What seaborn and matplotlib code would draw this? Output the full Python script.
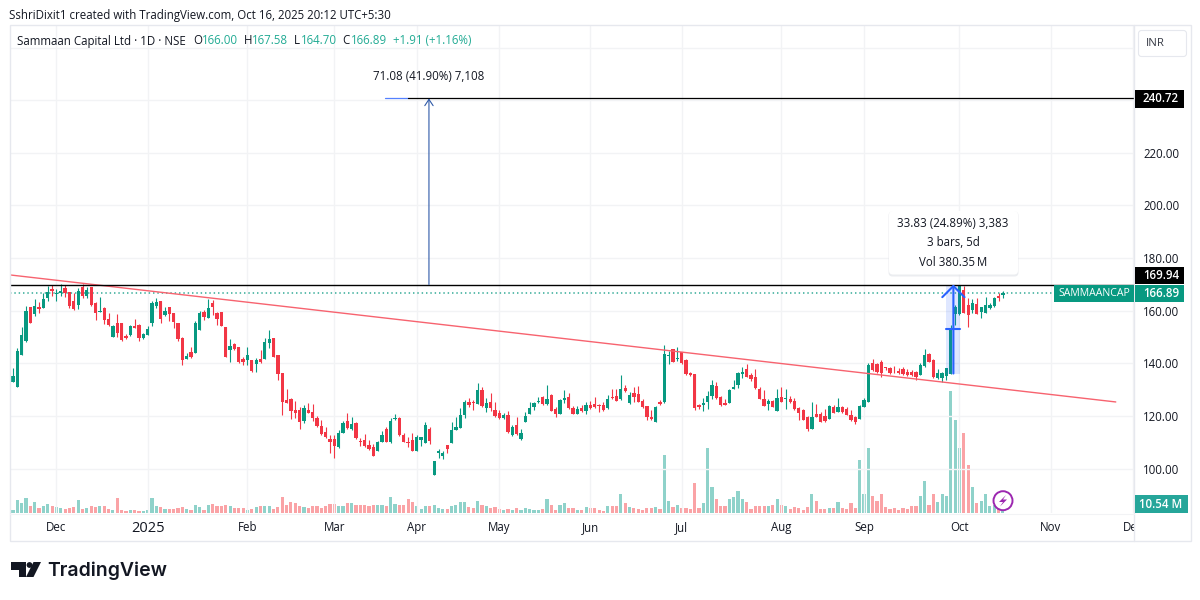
#!/usr/bin/env python3
"""Sammaan Capital daily candles with volume, TradingView style."""

import matplotlib
matplotlib.use("Agg")
import matplotlib.pyplot as plt
import numpy as np
import pandas as pd
import seaborn as sns
from matplotlib.patches import Circle, FancyBboxPatch, Polygon, Rectangle

# daily bars (oldest first, Nov 2024 to Oct 16 2025)
opens = [
    138.7,133.0,130.9,143.1,148.5,161.5,158.6,161.3,160.9,165.0,
    168.1,166.4,166.9,168.5,167.3,163.5,162.1,168.9,165.6,169.2,
    163.1,159.5,161.2,156.7,150.1,155.2,155.2,150.4,150.8,154.3,
    154.6,149.5,150.8,155.2,161.9,163.7,158.4,161.3,159.3,155.2,
    149.8,141.6,144.2,143.8,152.7,159.4,157.4,162.8,159.0,159.6,
    153.7,145.1,147.3,146.1,141.6,141.3,141.1,139.7,141.6,141.6,
    147.9,149.5,143.0,136.4,126.0,126.3,122.2,122.2,118.1,122.2,
    121.5,119.3,116.2,114.0,111.4,111.1,108.1,113.6,117.9,114.9,
    117.4,110.6,110.8,109.0,108.3,106.7,110.1,115.2,110.1,118.7,
    119.3,112.9,110.1,110.8,106.8,110.8,109.8,114.9,97.5,105.8,
    104.8,109.0,109.6,114.6,115.4,120.3,125.2,125.2,124.5,129.9,
    122.9,125.4,122.2,121.0,119.1,120.3,112.6,116.5,111.2,117.8,
    120.7,123.3,125.2,127.3,124.4,128.0,122.6,120.7,126.2,127.2,
    122.9,120.9,122.9,121.9,124.1,124.4,123.9,124.0,122.9,127.2,
    127.6,126.3,130.5,124.8,128.8,128.3,125.8,123.8,119.4,117.7,
    125.2,125.4,142.9,145.3,141.5,144.2,141.3,136.4,135.8,124.0,
    124.0,125.4,127.6,131.5,127.3,125.0,124.8,130.1,131.8,135.9,
    137.7,135.6,134.7,130.2,126.4,124.5,125.7,122.0,127.3,126.3,
    126.4,125.5,123.0,122.2,119.7,115.1,120.7,120.7,120.0,118.7,
    123.4,121.6,123.3,122.7,120.3,119.5,118.9,123.5,125.3,140.0,
    139.7,140.4,138.3,138.1,137.2,137.2,138.0,136.7,136.7,136.8,
    135.7,139.1,143.5,141.3,134.4,134.3,135.3,136.1,158.8,158.8,
    167.9,162.2,160.3,162.6,159.6,159.3,160.9,161.8,165.6,166.00,
]
highs = [
    138.7,138.1,145.7,153.7,161.8,161.5,164.3,163.2,166.9,169.4,
    169.8,168.1,170.1,169.8,167.3,166.6,168.5,170.2,169.2,169.2,
    163.2,165.1,161.3,159.0,154.6,158.6,155.2,151.0,154.6,156.9,
    154.8,151.4,154.0,163.8,165.0,163.7,161.3,161.5,159.3,155.5,
    150.1,143.8,146.1,156.1,160.0,160.3,164.5,164.1,159.6,159.6,
    153.7,149.1,147.9,146.3,142.3,146.1,141.3,141.9,145.1,149.5,
    152.7,149.8,143.2,136.4,130.1,126.7,125.8,123.5,124.2,124.8,
    124.4,120.0,118.4,115.7,112.7,112.7,114.6,118.2,121.0,119.7,
    117.6,111.5,113.1,110.8,109.3,110.6,114.4,115.7,119.1,120.7,
    119.7,113.6,111.9,113.4,112.7,112.1,117.6,115.9,103.0,107.3,
    106.7,109.0,117.7,119.7,122.9,126.0,126.7,126.0,132.4,131.1,
    126.7,128.6,125.4,122.2,121.0,121.9,116.5,119.7,115.0,121.6,
    125.4,125.4,127.3,127.6,131.8,128.3,123.5,126.4,129.9,128.8,
    123.8,123.8,124.1,125.4,125.8,127.3,124.5,125.2,127.9,130.1,
    130.1,135.5,131.8,129.2,131.1,131.4,126.4,123.9,122.2,123.9,
    126.0,147.0,144.8,145.3,146.3,144.4,141.5,136.8,135.8,124.4,
    126.7,129.6,133.6,133.0,127.6,126.4,130.1,133.6,136.8,138.5,
    139.7,136.2,137.7,130.9,129.8,126.3,126.0,130.1,130.9,130.1,
    127.6,126.9,123.3,122.6,120.0,125.4,124.5,121.6,122.5,124.1,
    124.1,126.7,123.8,123.5,122.2,120.0,124.1,126.8,140.2,141.5,
    140.3,141.3,138.7,138.7,139.0,138.1,138.7,137.7,137.5,137.2,
    140.0,145.3,143.8,141.5,137.7,136.8,138.1,154.6,162.2,169.94,
    169.4,165.0,164.3,164.7,161.5,165.1,162.8,165.1,166.6,167.58,
]
lows = [
    133.4,133.0,130.9,143.1,148.2,155.2,158.0,159.3,160.9,163.8,
    165.6,163.5,165.4,165.1,160.9,160.3,160.5,164.7,164.7,161.8,
    156.5,159.4,154.8,154.2,150.1,150.1,148.5,149.3,150.4,153.3,
    148.5,149.1,150.8,154.0,161.2,155.2,158.1,156.1,153.5,148.6,
    139.4,141.5,141.9,143.8,152.7,156.5,157.1,158.4,154.6,154.2,
    142.3,140.6,145.1,140.0,139.4,139.4,136.6,136.8,140.2,141.6,
    146.0,142.3,133.7,120.3,124.8,118.8,119.1,115.2,117.2,121.0,
    118.1,115.9,112.9,111.5,105.8,104.1,107.7,113.6,115.0,114.6,
    111.2,108.7,108.3,107.0,104.8,106.5,110.1,110.1,109.6,118.4,
    112.4,110.0,108.3,106.5,106.8,108.7,109.8,109.3,97.5,104.1,
    103.7,106.0,109.6,114.6,115.4,119.3,123.5,122.2,124.4,123.3,
    121.6,121.9,119.7,118.8,118.8,113.6,112.5,112.6,110.8,117.6,
    120.6,122.2,124.8,124.2,124.2,121.9,119.7,120.7,125.0,122.5,
    120.6,120.7,121.6,120.7,122.6,123.0,121.6,122.0,122.6,126.4,
    125.7,126.0,129.2,124.5,125.4,125.3,123.0,118.4,118.4,117.7,
    124.1,124.8,139.7,140.4,141.0,139.6,135.4,135.2,122.2,122.8,
    122.0,122.6,126.4,126.4,123.9,124.0,124.8,130.1,130.5,134.5,
    134.7,133.4,130.2,126.3,123.8,122.2,123.3,121.9,125.3,122.7,
    124.8,122.2,118.4,118.4,114.3,115.0,119.5,117.7,117.8,118.7,
    121.0,121.6,121.2,120.2,118.1,116.8,118.9,123.3,125.3,137.2,
    136.2,134.7,137.5,135.9,136.2,135.9,135.6,135.3,135.2,133.7,
    135.4,138.7,140.4,134.3,133.9,133.0,133.7,135.9,154.6,158.4,
    159.0,153.7,159.0,158.8,157.1,159.0,160.5,161.5,163.7,164.70,
]
closes = [
    133.4,135.2,144.7,150.8,160.0,155.5,161.8,160.5,164.3,167.3,
    167.6,166.9,167.6,166.9,161.8,160.5,167.5,165.4,167.9,162.1,
    159.0,159.7,156.5,154.6,154.2,151.4,148.9,149.8,154.0,153.3,
    149.5,151.2,153.0,163.1,163.3,156.7,159.9,158.8,155.8,149.3,
    141.3,142.9,142.3,155.2,159.3,157.5,160.9,161.5,156.9,154.3,
    142.5,146.6,145.5,140.5,140.6,143.0,137.1,141.3,140.5,148.0,
    149.4,142.5,135.9,125.2,125.0,122.0,121.2,117.7,123.0,121.2,
    119.1,116.2,113.1,111.9,110.2,108.6,113.6,117.2,115.5,116.9,
    111.5,110.2,108.6,107.3,104.8,110.1,112.9,110.1,117.9,119.2,
    112.6,110.1,109.7,106.8,112.1,112.0,116.5,110.6,103.0,106.5,
    106.0,107.6,114.6,115.7,120.3,125.4,124.2,124.8,129.9,123.8,
    124.8,123.1,120.1,119.1,120.5,113.8,115.9,113.1,113.5,120.1,
    122.9,124.8,125.8,124.5,126.4,122.0,120.7,126.0,126.9,122.9,
    120.9,122.5,121.9,124.0,123.1,123.3,123.8,122.2,126.4,126.7,
    125.8,130.1,129.5,127.9,127.3,125.4,123.3,119.4,118.8,123.5,
    124.5,143.5,143.2,140.4,142.1,140.2,135.8,135.6,122.9,123.3,
    125.0,127.7,131.8,126.7,124.1,124.3,129.8,131.1,136.2,136.8,
    134.9,133.9,130.5,126.4,123.9,125.7,123.5,126.8,125.4,126.7,
    125.4,122.5,121.2,118.4,114.9,119.7,119.7,117.8,118.1,123.8,
    121.1,123.4,121.5,120.5,118.3,117.8,123.8,126.0,139.4,137.5,
    136.6,136.2,138.1,136.2,136.9,136.4,135.9,135.6,135.4,134.9,
    139.4,143.2,140.6,134.9,136.2,136.4,138.1,152.9,161.5,169.8,
    159.0,158.4,163.1,158.8,161.3,162.2,162.2,164.8,165.0,166.89,
]
# volume in millions
volumes = [
    4.5,4.5,17.2,13.6,20.4,9.1,15.4,7.2,9.1,12.7,
    9.1,8.2,6.8,5.4,7.2,8.2,17.7,5.9,7.2,10.0,
    8.2,9.1,9.1,5.9,4.5,20.4,4.5,2.7,4.5,4.5,
    3.2,3.2,3.6,20.4,9.1,8.2,5.9,5.4,5.4,6.3,
    8.2,5.4,3.6,10.9,8.2,3.6,11.3,12.2,10.0,10.0,
    11.3,10.0,6.3,7.2,6.8,4.5,5.4,8.2,9.1,10.0,
    9.1,5.9,8.2,21.7,10.9,15.4,13.6,9.1,8.2,6.8,
    10.0,9.1,7.2,9.1,12.2,11.8,9.1,9.1,13.6,13.6,
    10.9,11.3,11.3,9.1,11.3,11.3,11.3,10.0,21.7,12.7,
    11.3,11.3,19.0,15.4,9.1,5.9,10.0,10.0,11.3,6.3,
    5.9,5.9,10.0,11.3,15.4,15.4,8.2,7.2,16.8,11.3,
    10.0,6.8,8.2,5.9,4.5,5.4,4.5,6.3,4.5,6.8,
    5.9,4.5,4.5,5.9,19.0,11.3,4.5,11.3,13.6,7.2,
    7.2,4.5,4.5,8.2,7.2,7.2,4.5,2.7,10.0,10.0,
    10.0,26.3,13.6,8.2,6.8,5.9,4.5,6.8,6.8,8.2,
    5.4,79.3,16.3,8.2,11.3,6.8,6.8,5.4,40.8,6.8,
    13.6,88.3,35.3,19.0,9.1,10.0,19.0,21.7,29.9,19.0,
    14.9,5.4,10.0,9.1,10.0,9.1,11.3,19.0,10.9,10.0,
    5.4,8.2,6.8,4.5,8.2,26.3,16.3,5.4,5.4,7.2,
    7.2,14.9,6.8,5.4,13.6,6.8,72.5,25.4,88.3,22.7,
    16.3,25.4,8.2,5.4,6.8,4.5,6.8,5.4,9.1,10.0,
    22.7,43.5,11.3,25.4,14.9,26.3,22.7,165.3,126.8,88.8,
    108.7,64.8,35.3,13.6,16.3,25.4,10.0,11.3,8.2,10.54,
]

month_bars = [11, 32, 55, 75, 94, 113, 134, 155, 178, 197, 219, 240, 259]
month_labels = ["Dec", "2025", "Feb", "Mar", "Apr", "May", "Jun", "Jul", "Aug", "Sep", "Oct", "Nov", "Dec"]
price_ticks = [100, 120, 140, 160, 180, 200, 220, 240, 260]
price_labels = ["100.00", "120.00", "140.00", "160.00", "180.00", "200.00", "220.00", "", ""]

target_price = 240.72
resistance = 169.94
last_close = 166.89
measure_low = 136.11
trend_bars = [0.3, 255]
trend_prices = [173.6, 125.3]

GREEN = "#089981"
RED = "#f23645"
TEXT = "#131722"
GRID = "#f2f3f5"
FRAME = "#e6e8ee"
BLUE = "#2962ff"
FONT = "Open Sans"
FS = 8.3

df = pd.DataFrame({"open": opens, "high": highs, "low": lows, "close": closes, "volume": volumes})
df["bar"] = np.arange(len(df))
df["side"] = np.where(df["close"] >= df["open"], "up", "down")

sns.set_theme(style="white")
plt.rcParams["font.family"] = [FONT, "DejaVu Sans"]

fig = plt.figure(figsize=(12, 6), dpi=100, facecolor="white")

# chart area is x 10-1134 and y 26-513 in pixels
ax = fig.add_axes([10 / 1200, 1 - 513 / 600, 1124 / 1200, 487 / 600])
ax_vol = ax.twinx()
ax.set_zorder(ax_vol.get_zorder() + 1)
ax.patch.set_visible(False)

# volume, on its own scale at the bottom of the pane
sns.barplot(data=df, x="bar", y="volume", hue="side", hue_order=["up", "down"],
            palette={"up": "#8fd2ca", "down": "#faa3a6"}, native_scale=True, dodge=False,
            width=0.74, saturation=1, legend=False, errorbar=None, ax=ax_vol)
for patch in ax_vol.patches:
    patch.set_linewidth(0)
ax_vol.set_ylim(0, 662)
ax_vol.set_xlabel("")
ax_vol.set_ylabel("")
ax_vol.set_yticks([])

# candles
colors = [GREEN if s == "up" else RED for s in df["side"]]
ax.vlines(df["bar"], df["low"], df["high"], colors=colors, lw=0.8, zorder=3)
body_low = df[["open", "close"]].min(axis=1)
body_size = (df["open"] - df["close"]).abs().clip(lower=0.35)
ax.bar(df["bar"], body_size, bottom=body_low, width=0.76, color=colors, linewidth=0, zorder=3)

# trend line and levels
sns.lineplot(x=trend_bars, y=trend_prices, color="#f7636f", lw=1.0, ax=ax, zorder=4)
ax.plot([86.7, 259.2], [resistance - 0.35, resistance - 0.35], color=BLUE, lw=0.7, zorder=4)
ax.plot([0.3, 259.2], [resistance, resistance], color="black", lw=1.0, zorder=5)
ax.plot([86.7, 92], [target_price, target_price], color=BLUE, lw=0.9, zorder=4, alpha=0.8)
ax.plot([92, 259.2], [target_price, target_price], color="black", lw=0.9, zorder=5)
ax.axhline(last_close, color=GREEN, lw=1.3, ls=(0, (0.8, 1.6)), alpha=0.7, zorder=2)

# target arrow
ax.annotate("", xy=(96.8, target_price), xytext=(96.8, resistance),
            arrowprops=dict(arrowstyle="->,head_length=0.45,head_width=0.3", color="#2f5aa8",
                            lw=0.8, mutation_scale=10, shrinkA=0, shrinkB=0), zorder=5)

# measured move
ax.add_patch(Rectangle((216.0, measure_low), 3.2, resistance - measure_low,
                       facecolor=BLUE, alpha=0.15, linewidth=0, zorder=4))
ax.annotate("", xy=(217.6, resistance), xytext=(217.6, measure_low),
            arrowprops=dict(arrowstyle="->,head_length=0.8,head_width=0.8", color=BLUE,
                            lw=1.5, mutation_scale=10, shrinkA=0, shrinkB=0), zorder=6)
ax.plot([216.0, 219.2], [153.0, 153.0], color=BLUE, lw=1.5, zorder=6)

ax.set_xlim(0.3, 259.2)
ax.set_ylim(83.08, 268.25)
ax_vol.set_xlim(0.3, 259.2)
ax.set_axisbelow(True)
ax.set_xticks(month_bars, month_labels)
ax.set_yticks(price_ticks, price_labels)
ax.yaxis.tick_right()
ax.grid(True, color=GRID, lw=1.0)
ax.tick_params(axis="y", length=0, pad=6.5, labelsize=FS, labelcolor=TEXT)
ax.tick_params(axis="x", length=0, pad=6, labelsize=FS, labelcolor=TEXT)
ax.get_xticklabels()[1].set_fontsize(10.5)
for spine in ax.spines.values():
    spine.set_visible(False)
for spine in ax_vol.spines.values():
    spine.set_visible(False)
ax_vol.tick_params(axis="x", length=0, labelbottom=False)

# chrome on a pixel overlay
ov = fig.add_axes([0, 0, 1, 1], zorder=20)
ov.set_xlim(0, 1200)
ov.set_ylim(600, 0)
ov.axis("off")
ov.patch.set_visible(False)

# covers the right half of the last month label
ov.add_patch(Rectangle((1134.5, 514), 55, 26, facecolor="white", linewidth=0, zorder=1))
ov.add_patch(Rectangle((10, 25), 1180.5, 516, fill=False, edgecolor=FRAME, lw=1.0, zorder=2))
ov.plot([1134, 1134], [25, 541], color=FRAME, lw=1.0, zorder=2)
ov.plot([10, 1134], [513.5, 513.5], color=GRID, lw=0.8, zorder=2)

ov.text(9, 15, "SshriDixit1 created with TradingView.com, Oct 16, 2025 20:12 UTC+5:30",
        fontsize=FS, color=TEXT, va="center", ha="left")
ov.text(17, 41, "Sammaan Capital Ltd · 1D · NSE", fontsize=FS, color=TEXT, va="center")
for label, x_label, value, x_value in [("O", 193, "166.00", 202), ("H", 244, "167.58", 252),
                                       ("L", 294, "164.70", 301), ("C", 342, "166.89", 351)]:
    ov.text(x_label, 41, label, fontsize=FS, color=TEXT, va="center")
    ov.text(x_value, 41, value, fontsize=FS, color="#22ab94", va="center")
ov.text(393, 41, "+1.91 (+1.16%)", fontsize=FS, color="#22ab94", va="center")

ov.text(429, 77, "71.08 (41.90%) 7,108", fontsize=FS, color=TEXT, ha="center", va="center")

# tooltip of the measure
ov.add_patch(FancyBboxPatch((891, 214), 125, 60, boxstyle="round,pad=2.5,rounding_size=4",
                            facecolor="#dfe1e6", edgecolor="none", alpha=0.6, zorder=2))
ov.add_patch(FancyBboxPatch((891.5, 213.5), 124, 58.5, boxstyle="round,pad=2.5,rounding_size=4",
                            facecolor="white", edgecolor="none", zorder=3))
for y_text, tip in [(223.5, "33.83 (24.89%) 3,383"), (243, "3 bars, 5d"), (262.5, "Vol 380.35\u2009M")]:
    ov.text(953, y_text, tip, fontsize=FS, color=TEXT, ha="center", va="center", zorder=4)

# price axis tags
ov.add_patch(FancyBboxPatch((1140, 32), 45, 23, boxstyle="round,pad=1.5,rounding_size=3",
                            facecolor="white", edgecolor=FRAME, lw=0.8, zorder=3))
ov.text(1155.5, 44, "INR", fontsize=8.2, color="#363a45", ha="center", va="center", zorder=4)
for y0, y1, color, tag in [(90, 108, "black", "240.72"), (267, 284, "black", "169.94"),
                           (284.5, 302, "#089981", "166.89"), (495, 513, "#26a69a", "10.54 M")]:
    ov.add_patch(Rectangle((1135, y0), 49 if tag != "10.54 M" else 53, y1 - y0,
                           facecolor=color, linewidth=0, zorder=3))
    ov.text(1161, (y0 + y1) / 2, tag, fontsize=FS, color="white", ha="center", va="center",
            fontweight="semibold", zorder=4)
ov.add_patch(Rectangle((1054, 284.5), 80, 17.5, facecolor="#089981", linewidth=0, zorder=3))
ov.text(1094, 293.2, "SAMMAANCAP", fontsize=7.6, color="white", ha="center", va="center", zorder=4)

# lightning badge
ov.add_patch(Circle((1003, 500.7), 9.5, facecolor="white", edgecolor="#9c27b0", lw=1.4, zorder=5))
ov.add_patch(Polygon([(1006, 495), (999, 502), (1003, 502), (1000, 506.5), (1007, 499.5), (1003, 499.5)],
                     closed=True, facecolor="#9c27b0", edgecolor="none", zorder=6))

# TradingView logo
LOGO = "#131722"
ov.add_patch(Polygon([(11, 562), (26, 562), (26, 577), (18.5, 577), (18.5, 569.5), (11, 569.5)],
                     closed=True, facecolor=LOGO, edgecolor="none"))
ov.add_patch(Circle((29.5, 565), 2.9, facecolor=LOGO, edgecolor="none"))
ov.add_patch(Polygon([(33.5, 562), (41, 562), (33.5, 577), (26, 577)],
                     closed=True, facecolor=LOGO, edgecolor="none"))
ov.text(47.5, 570.5, "TradingView", fontsize=14, color=LOGO, va="center", ha="left",
        family="Inter", fontweight="semibold")

fig.savefig("out.png", dpi=100)
